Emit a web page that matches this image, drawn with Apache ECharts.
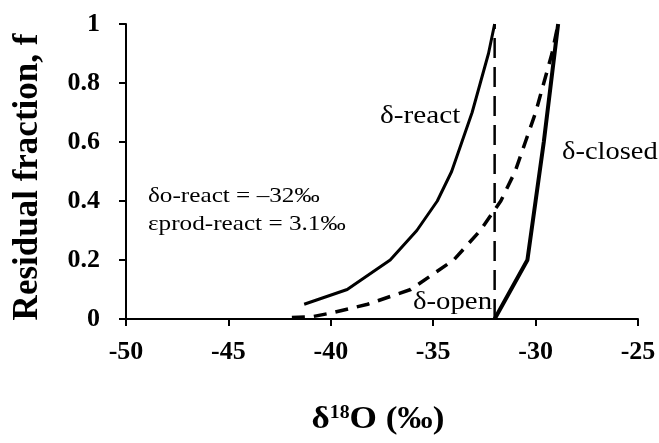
<!DOCTYPE html>
<html>
<head>
<meta charset="utf-8">
<script src="https://cdn.jsdelivr.net/npm/echarts@6/dist/echarts.min.js"></script>
<style>
html,body{margin:0;padding:0;background:#fff;}
#chart{width:659px;height:443px;}
</style>
</head>
<body>
<div id="chart"></div>
<script>
// Data: [delta18O (‰), residual fraction f]
var reactLine = [[-41.3,0.05],[-39.2,0.1],[-37.1,0.2],[-35.8,0.3],[-34.8,0.4],[-34.1,0.5],[-33.6,0.6],[-33.1,0.7],[-32.7,0.8],[-32.3,0.9],[-32.0,1.0]];
var openLine = [[-41.9,0.005],[-40.9,0.008],[-40.0,0.02],[-38.2,0.05],[-36.1,0.1],[-34.0,0.2],[-32.7,0.3],[-31.7,0.4],[-31.0,0.5],[-30.5,0.6],[-30.0,0.7],[-29.6,0.8],[-29.2,0.9],[-28.9,1.0]];
var closedLine = [[-32.0,0.0],[-30.4,0.2],[-30.0,0.4],[-29.6,0.6],[-29.25,0.8],[-28.9,1.0]];
var initialLine = [[-32.0,0.0],[-32.0,1.0]];
var xTicks = [-50,-45,-40,-35,-30,-25];
var yTicks = [0,0.2,0.4,0.6,0.8,1];

var serif = '"Liberation Serif","Times New Roman",serif';
var chart = echarts.init(document.getElementById('chart'), null, {renderer:'canvas'});
function axisLabel(margin, fmt){
  return {show:true,color:'#000',fontFamily:serif,fontWeight:'bold',fontSize:26,margin:margin,
          hideOverlap:false,formatter:fmt};
}
var axisLine = {show:true,onZero:false,lineStyle:{color:'#000',width:2}};
var axisTick = {show:true,inside:false,length:7,lineStyle:{color:'#000',width:2}};
chart.setOption({
  animation:false,
  backgroundColor:'#fff',
  grid:{left:126,right:21,top:24,bottom:124,containLabel:false},
  xAxis:{
    type:'value',min:xTicks[0],max:xTicks[xTicks.length-1],interval:5,
    axisLine:axisLine,axisTick:axisTick,splitLine:{show:false},
    axisLabel:axisLabel(20,function(v){return String(v);})
  },
  yAxis:{
    type:'value',min:yTicks[0],max:yTicks[yTicks.length-1],interval:0.2,
    axisLine:axisLine,axisTick:axisTick,splitLine:{show:false},
    axisLabel:axisLabel(26,function(v){return String(+v.toFixed(1));})
  },
  series:[
    {type:'line',data:reactLine,symbol:'none',lineStyle:{color:'#000',width:3}},
    {type:'line',data:openLine,symbol:'none',lineStyle:{color:'#000',width:3.5,type:[13,9]}},
    {type:'line',data:closedLine,symbol:'none',lineStyle:{color:'#000',width:4}},
    {type:'line',data:initialLine,symbol:'none',lineStyle:{color:'#000',width:2.5,type:[20,9]}}
  ],
  graphic:[
    {type:'text',x:28,y:177,rotation:Math.PI/2,
     style:{text:'Residual fraction, f',font:'bold 35px '+serif,fill:'#000',align:'center',verticalAlign:'middle'}},
    {type:'text',x:378,y:420,scaleX:1.1,
     style:{rich:{a:{font:'bold 32px '+serif,fill:'#000'},s:{font:'bold 18px '+serif,fill:'#000',verticalAlign:'top',padding:[0,0,14,0]}},
       text:'{a|δ}{s|18}{a|O (‰)}',align:'center',verticalAlign:'middle'}},
    {type:'text',x:380,y:116,scaleX:1.17,style:{text:'δ-react',font:'25px '+serif,fill:'#000',align:'left',verticalAlign:'middle'}},
    {type:'text',x:562,y:152,scaleX:1.14,style:{text:'δ-closed',font:'25px '+serif,fill:'#000',align:'left',verticalAlign:'middle'}},
    {type:'text',x:413,y:302,scaleX:1.15,style:{text:'δ-open',font:'25px '+serif,fill:'#000',align:'left',verticalAlign:'middle'}},
    {type:'text',x:148,y:196,scaleX:1.2,style:{text:'δo-react = –32‰',font:'21px '+serif,fill:'#000',align:'left',verticalAlign:'middle'}},
    {type:'text',x:148,y:224,scaleX:1.2,style:{text:'εprod-react = 3.1‰',font:'21px '+serif,fill:'#000',align:'left',verticalAlign:'middle'}}
  ]
});

// Make sure every x-axis tick label produced by the axis stays visible.
var xLabelTexts = xTicks.map(function(v){return String(v);});
function keepAxisLabels(){
  try {
    var zr = chart.getZr();
    var changed = false;
    function walk(el){
      if (!el) return;
      if (el.style && xLabelTexts.indexOf(el.style.text) >= 0 && el.type !== 'group') {
        if (el.ignore || el.invisible || el.style.opacity === 0) {
          el.ignore = false; el.invisible = false;
          if (el.style.opacity === 0) el.style.opacity = 1;
          var p = el.parent;
          while (p) { if (p.ignore) p.ignore = false; p = p.parent; }
          el.markRedraw && el.markRedraw();
          changed = true;
        }
      }
      if (el.isGroup && el.eachChild) el.eachChild(walk);
    }
    zr.storage.getRoots().forEach(walk);
    if (changed) zr.refreshImmediately();
  } catch (e) {}
}
keepAxisLabels();
chart.on('finished', keepAxisLabels);
setTimeout(keepAxisLabels, 30);
</script>
</body>
</html>
